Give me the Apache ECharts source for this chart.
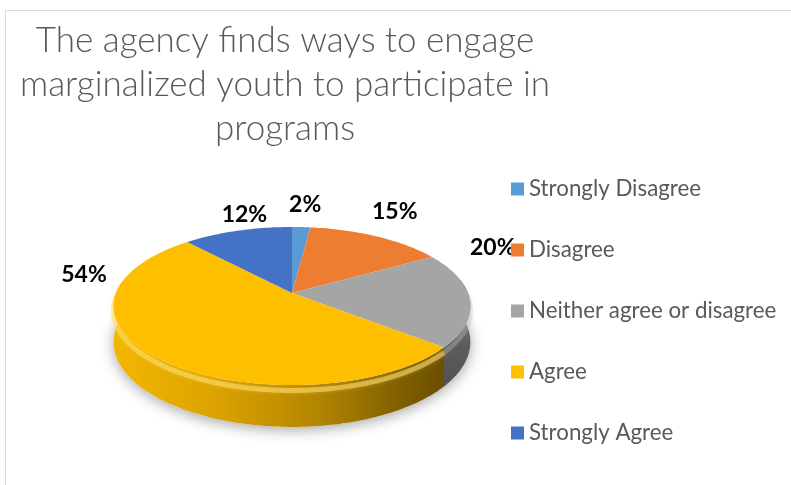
<!DOCTYPE html>
<html>
<head>
<meta charset="utf-8">
<script src="https://cdn.jsdelivr.net/npm/echarts@6/dist/echarts.min.js"></script>
<style>
  html, body { margin: 0; padding: 0; background: #ffffff; }
  #chart { width: 791px; height: 485px; }
</style>
</head>
<body>
<div id="chart"></div>
<script>
// Survey answers and their shares (percent)
const categories = ['Strongly Disagree', 'Disagree', 'Neither agree or disagree', 'Agree', 'Strongly Agree'];
const percentages = [2, 15, 20, 54, 12];
const chartTitle = 'The agency finds ways to engage\nmarginalized youth to participate in\nprograms';

// Styling per slice
const topColors = ['#5B9BD5', '#ED7D31', '#A5A5A5', '#FDBF00', '#4472C4'];
const wallStops = [
  [[0, '#3f78ad'], [1, '#2a5680']],
  [[0, '#c8601c'], [1, '#8f4210']],
  [[0, '#4e4e4e'], [0.55, '#5c5c5c'], [1, '#8a8a8a']],
  [[0, '#f2b600'], [0.3, '#dca300'], [0.62, '#b38500'], [0.88, '#7e5e00'], [1, '#6c5000']],
  [[0, '#2f5597'], [1, '#203a66']]
];
// Label placement relative to each slice's outer mid point
const labelShift = [[4, -22], [18, -25], [23, -51], [-70, -82], [7, -16]];

// Tilted disc geometry (simple perspective)
const CX = 292, CY = 293, RX = 176, RY = 76.9, VIEW = 6.08, DEPTH = 35;

const total = percentages.reduce((s, v) => s + v, 0);
const startAngles = [];
percentages.reduce((acc, v, i) => { startAngles[i] = acc / total * Math.PI * 2; return acc + v; }, 0);

function project(theta, r, drop) {
  const u = r * Math.sin(theta), v = -r * Math.cos(theta);
  const p = VIEW / (VIEW - v);
  return [CX + RX * u * p, CY + RY * v * p + DEPTH * p * drop];
}
function arc(a0, a1, r, drop) {
  const n = Math.max(2, Math.ceil((a1 - a0) / 0.02));
  const pts = [];
  for (let k = 0; k <= n; k++) pts.push(project(a0 + (a1 - a0) * k / n, r, drop));
  return pts;
}
const DEG = Math.PI / 180;

function makeRender(i) {
  return function (params, api) {
    const val = api.value(0);
    const a0 = startAngles[i];
    const a1 = a0 + val / total * Math.PI * 2;
    const children = [];

    if (i === 0) {
      // soft shadow under the whole disc
      children.push({
        type: 'polygon', z2: 0,
        shape: { points: arc(0, Math.PI * 2, 1, 1) },
        style: { fill: '#ffffff', shadowBlur: 14, shadowColor: 'rgba(0,0,0,0.35)', shadowOffsetY: 3 }
      });
    }

    // outer wall (front-facing part only)
    const w0 = Math.max(a0, 80 * DEG), w1 = Math.min(a1, 280 * DEG);
    if (w1 > w0) {
      const topEdge = arc(w0, w1, 1, 0);
      const botEdge = arc(w0, w1, 1, 1).reverse();
      const xs = topEdge.map(p => p[0]);
      const minX = Math.min.apply(null, xs), maxX = Math.max.apply(null, xs);
      const stops = wallStops[i].map(s => ({ offset: s[0], color: s[1] }));
      const grad = (i === 3)
        ? new echarts.graphic.LinearGradient(CX - RX, 0, CX + RX * 0.85, 0, stops, true)
        : new echarts.graphic.LinearGradient(minX, CY + RY + DEPTH, maxX, CY, stops, true);
      children.push({
        type: 'polygon', z2: 1,
        shape: { points: topEdge.concat(botEdge) },
        style: { fill: grad }
      });
      // soft bevel highlight along the rim
      const glow = i === 3 ? 'rgba(255,222,110,0.55)' : 'rgba(190,190,190,0.35)';
      children.push({
        type: 'polyline', z2: 2,
        shape: { points: arc(w0, w1, 1, 0.13) },
        style: { stroke: glow, lineWidth: 5, fill: null, shadowBlur: 4, shadowColor: glow }
      });
    }

    // top face of the slice
    children.push({
      type: 'polygon', z2: 3,
      shape: { points: [[CX, CY]].concat(arc(a0, a1, 1, 0)) },
      style: { fill: topColors[i] }
    });

    // value label
    const mid = (a0 + a1) / 2;
    const anchor = project(mid, 1, 0);
    children.push({
      type: 'text', z2: 5,
      x: anchor[0] + labelShift[i][0],
      y: anchor[1] + labelShift[i][1],
      style: {
        text: val + '%',
        align: 'center', verticalAlign: 'middle',
        font: 'bold 23px Lato, "Open Sans", sans-serif',
        fill: '#000000'
      }
    });

    return { type: 'group', children: children };
  };
}

const chart = echarts.init(document.getElementById('chart'), null, { renderer: 'canvas' });

const series = categories.map((name, i) => ({
  type: 'custom',
  name: name,
  coordinateSystem: 'none',
  silent: true,
  itemStyle: { color: topColors[i] },
  renderItem: makeRender(i),
  data: [[percentages[i]]]
}));

chart.setOption({
  animation: false,
  backgroundColor: '#ffffff',
  title: {
    text: chartTitle,
    left: 285,
    top: 19,
    padding: 0,
    textAlign: 'center',
    textStyle: {
      fontFamily: 'Lato, "Open Sans", sans-serif',
      fontWeight: 300,
      fontSize: 35,
      lineHeight: 44,
      color: '#595959'
    }
  },
  legend: {
    orient: 'vertical',
    left: 511,
    top: 178,
    padding: 0,
    itemWidth: 13,
    itemHeight: 13,
    itemGap: 39,
    icon: 'rect',
    selectedMode: false,
    textStyle: {
      fontFamily: 'Lato, "Open Sans", sans-serif',
      fontSize: 22.3,
      lineHeight: 22,
      color: '#595959'
    },
    data: categories
  },
  graphic: [{
    type: 'rect',
    silent: true,
    shape: { x: 5.5, y: 10.5, width: 900, height: 600 },
    style: { fill: null, stroke: '#d9d9d9', lineWidth: 1 }
  }],
  series: series
});
</script>
</body>
</html>
